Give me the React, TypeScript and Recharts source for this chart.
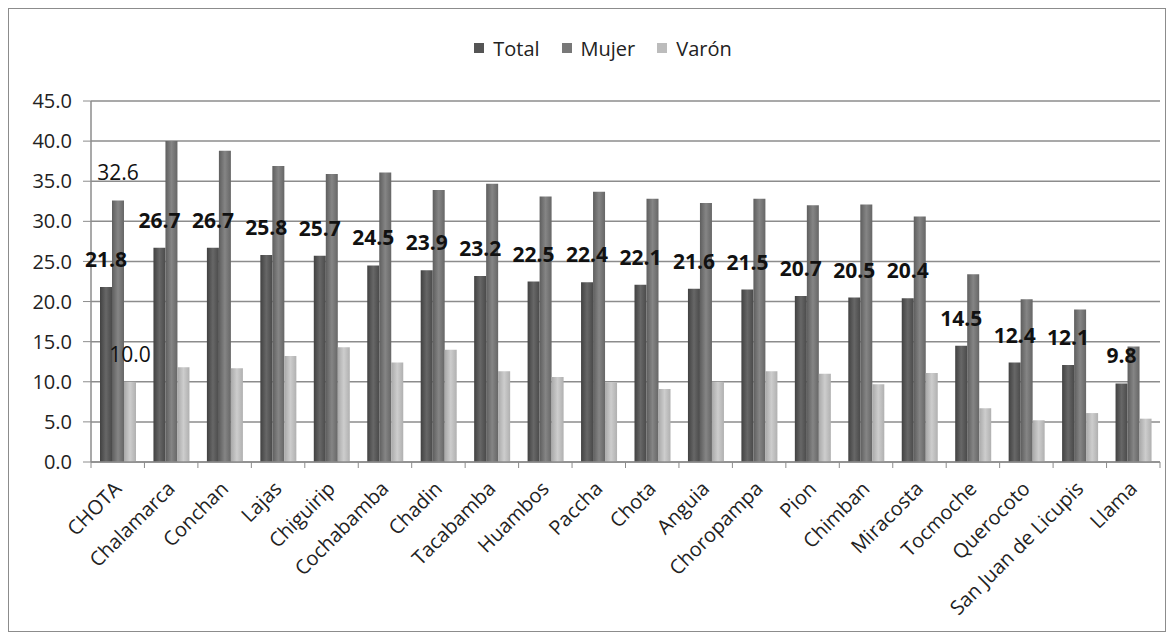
import { Bar, BarChart, CartesianGrid, LabelList, Legend, XAxis, YAxis } from "recharts"

const DISTRICTS = [
  "CHOTA", "Chalamarca", "Conchan", "Lajas", "Chiguirip", "Cochabamba", "Chadin",
  "Tacabamba", "Huambos", "Paccha", "Chota", "Anguia", "Choropampa", "Pion",
  "Chimban", "Miracosta", "Tocmoche", "Querocoto", "San Juan de Licupis", "Llama",
]
const TOTAL = [21.8, 26.7, 26.7, 25.8, 25.7, 24.5, 23.9, 23.2, 22.5, 22.4, 22.1, 21.6, 21.5, 20.7, 20.5, 20.4, 14.5, 12.4, 12.1, 9.8]
const MUJER = [32.6, 40.0, 38.8, 36.9, 35.9, 36.1, 33.9, 34.7, 33.1, 33.7, 32.8, 32.3, 32.8, 32.0, 32.1, 30.6, 23.4, 20.3, 19.0, 14.4]
const VARON = [10.0, 11.8, 11.7, 13.2, 14.3, 12.4, 14.0, 11.3, 10.6, 9.9, 9.1, 10.0, 11.3, 11.0, 9.7, 11.1, 6.7, 5.2, 6.1, 5.4]
const Y_TICKS = [0, 5, 10, 15, 20, 25, 30, 35, 40, 45]

const SERIES = [
  { key: "total", name: "Total", swatch: "#555555" },
  { key: "mujer", name: "Mujer", swatch: "#787878" },
  { key: "varon", name: "Varón", swatch: "#bcbcbc" },
]

const FONT = "'Open Sans', 'Noto Sans', sans-serif"
const GRID = "#8c8c8c"

const data = DISTRICTS.map((name, i) => ({
  name,
  total: TOTAL[i],
  mujer: MUJER[i],
  varon: VARON[i],
  // only the first group shows its Mujer / Varón values
  mujerLabel: i === 0 ? MUJER[i] : null,
  varonLabel: i === 0 ? VARON[i] : null,
}))

const makeLabel = (bold: boolean, size: number) => (props: any) => {
  const { x, y, width, value } = props
  if (value === null || value === undefined) return null
  return (
    <text
      x={Number(x) + Number(width) / 2}
      y={Number(y) - 20}
      textAnchor="middle"
      fontFamily={FONT}
      fontSize={size}
      fontWeight={bold ? 700 : 400}
      fill="#111"
    >
      {Number(value).toFixed(1)}
    </text>
  )
}

function CategoryTick(props: any) {
  const { x, y, payload, index, visibleTicksCount } = props
  const half = payload?.offset ?? 26.7
  const last = index === visibleTicksCount - 1
  return (
    <g>
      <line x1={x - half} x2={x - half} y1={y - 6} y2={y} stroke={GRID} />
      {last && <line x1={x + half} x2={x + half} y1={y - 6} y2={y} stroke={GRID} />}
      <text
        x={x + 5}
        y={y + 22}
        textAnchor="end"
        transform={`rotate(-45 ${x + 5} ${y + 22})`}
        fontFamily={FONT}
        fontSize={20}
        fill="#222"
      >
        {payload.value}
      </text>
    </g>
  )
}

function LegendBox() {
  return (
    <div
      style={{
        height: 28,
        display: "flex",
        justifyContent: "center",
        alignItems: "center",
        gap: 22,
        fontFamily: FONT,
        fontSize: 20,
        color: "#222",
      }}
    >
      {SERIES.map((s) => (
        <span key={s.key} style={{ display: "flex", alignItems: "center" }}>
          <span style={{ width: 10, height: 10, background: s.swatch, marginRight: 9 }} />
          {s.name}
        </span>
      ))}
    </div>
  )
}

export default function App() {
  return (
    <div style={{ width: 1158, height: 624, border: "1px solid #8c8c8c", boxSizing: "border-box", background: "#fff" }}>
      <BarChart
        width={1156}
        height={622}
        data={data}
        margin={{ top: 64, right: 5, bottom: 9, left: 0 }}
        barGap={0}
      >
        <defs>
          <linearGradient id="gTotal" x1="0" y1="0" x2="1" y2="0">
            <stop offset="0%" stopColor="#414141" />
            <stop offset="50%" stopColor="#676767" />
            <stop offset="100%" stopColor="#4a4a4a" />
          </linearGradient>
          <linearGradient id="gMujer" x1="0" y1="0" x2="1" y2="0">
            <stop offset="0%" stopColor="#5e5e5e" />
            <stop offset="50%" stopColor="#858585" />
            <stop offset="100%" stopColor="#666666" />
          </linearGradient>
          <linearGradient id="gVaron" x1="0" y1="0" x2="1" y2="0">
            <stop offset="0%" stopColor="#a9a9a9" />
            <stop offset="50%" stopColor="#cdcdcd" />
            <stop offset="100%" stopColor="#b0b0b0" />
          </linearGradient>
        </defs>
        <Legend
          verticalAlign="top"
          content={<LegendBox />}
          wrapperStyle={{ top: 25, left: 32, width: 1124 }}
        />
        <CartesianGrid vertical={false} stroke={GRID} strokeWidth={1.5} />
        <XAxis
          dataKey="name"
          interval={0}
          height={160}
          tickLine={false}
          tickSize={6}
          tickMargin={0}
          axisLine={{ stroke: GRID, strokeWidth: 1.5 }}
          tick={<CategoryTick />}
        />
        <YAxis
          domain={[0, 45]}
          ticks={Y_TICKS}
          width={82}
          tickSize={8}
          tickMargin={11}
          tickFormatter={(v: number) => v.toFixed(1)}
          tick={{ fontFamily: FONT, fontSize: 20, fill: "#222" }}
          axisLine={{ stroke: GRID, strokeWidth: 1.5 }}
          tickLine={{ stroke: GRID }}
        />
        <Bar dataKey="total" name="Total" fill="url(#gTotal)" barSize={12} isAnimationActive={false}>
          <LabelList dataKey="total" content={makeLabel(true, 21)} />
        </Bar>
        <Bar dataKey="mujer" name="Mujer" fill="url(#gMujer)" barSize={12} isAnimationActive={false}>
          <LabelList dataKey="mujerLabel" content={makeLabel(false, 21)} />
        </Bar>
        <Bar dataKey="varon" name="Varón" fill="url(#gVaron)" barSize={12} isAnimationActive={false}>
          <LabelList dataKey="varonLabel" content={makeLabel(false, 21)} />
        </Bar>
      </BarChart>
    </div>
  )
}
